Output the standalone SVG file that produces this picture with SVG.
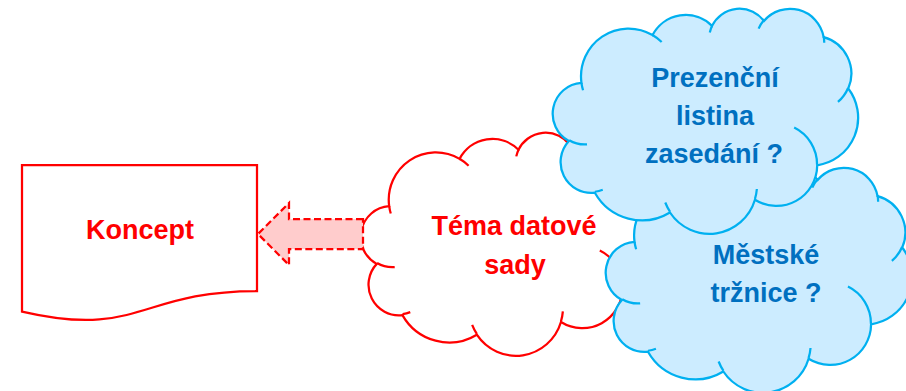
<svg xmlns="http://www.w3.org/2000/svg" xmlns:xlink="http://www.w3.org/1999/xlink" width="906" height="391" viewBox="0 0 906 391">
  <style>
    .lbl { font-family: "Liberation Sans", Arial, sans-serif; font-weight: bold; font-size: 27px; text-anchor: middle; }
    .red { fill: #FF0000; }
    .blue { fill: #0070C0; }
    .cloud-red { fill: #FFFFFF; stroke: #FF0000; stroke-width: 2.25; }
    .cloud-blue { fill: #CCECFF; stroke: #00B0F0; stroke-width: 2.25; }
    .marks { fill: none; }
    .cloud-red .marks, .cloud-blue .marks { fill: none; }
  </style>
  <defs>
    <path id="cloudOutline" vector-effect="non-scaling-stroke" d="M3900 14370 A6753 9190 0 0 1 14005 5202 A5333 7267 0 0 1 22456 3432 A4365 5945 0 0 1 29833 2481 A4857 6595 0 0 1 38318 5576 A5333 7273 0 0 1 41818 15460 A6775 9220 0 0 1 37404 30203 A5785 7867 0 0 1 28556 36813 A6752 9215 0 0 1 16480 39264 A7720 10543 0 0 1 5805 35470 A4360 5918 0 0 1 2114 25548 A4345 5945 0 0 1 3900 14370 Z"/>
    <path id="cloudMarks" vector-effect="non-scaling-stroke" fill="none" d="M4693 26177 A4345 5945 0 0 1 2160 25380 M6928 34899 A4360 5918 0 0 1 5820 35281 M16478 39090 A6752 9215 0 0 1 15810 37350 M28827 34751 A6752 9215 0 0 1 28560 36661 M34129 22954 A5785 7867 0 0 1 37380 30090 M41798 15354 A5333 7273 0 0 1 40350 18030 M38324 5426 A4857 6595 0 0 1 38400 6690 M29078 3952 A4857 6595 0 0 1 29820 2341 M22141 4720 A4365 5945 0 0 1 22500 3330 M14000 5192 A6753 9190 0 0 1 15300 6540 M4127 15789 A6753 9190 0 0 1 3900 14370"/>
  </defs>

  <g id="node-koncept">
    <path d="M22 165 L257 165 L257 291 C139.5 291 139.5 338.9 22 311.6 Z" fill="#FFFFFF" stroke="#FF0000" stroke-width="2.25"/>
    <text class="lbl red" x="140" y="239">Koncept</text>
  </g>

  <g id="node-tema">
    <g class="cloud-red" transform="translate(362 132) scale(0.0069676 0.0051620)">
      <use xlink:href="#cloudOutline"/>
      <use xlink:href="#cloudMarks"/>
    </g>
    <text class="lbl red" x="514" y="235">Téma datové</text>
    <text class="lbl red" x="515" y="274">sady</text>
  </g>

  <g id="connectors">
    <path d="M363 219 L289 219 L289 203 L258 234 L289 265 L289 249 L363 249 Z" fill="#FFCCCC" stroke="#FF0000" stroke-width="2.25" stroke-dasharray="7 3.5"/>
  </g>

  <g id="node-trznice">
    <g class="cloud-blue" transform="translate(607 167) scale(0.0070602 0.0052083)">
      <use xlink:href="#cloudOutline"/>
      <use xlink:href="#cloudMarks"/>
    </g>
    <text class="lbl blue" x="766" y="264">Městské</text>
    <text class="lbl blue" x="766" y="302">tržnice ?</text>
  </g>

  <g id="node-prezencni">
    <g class="cloud-blue" transform="translate(554 8) scale(0.0070370 0.0052083)">
      <use xlink:href="#cloudOutline"/>
      <use xlink:href="#cloudMarks"/>
    </g>
    <text class="lbl blue" x="715" y="87">Prezenční</text>
    <text class="lbl blue" x="715" y="125">listina</text>
    <text class="lbl blue" x="714" y="163">zasedání ?</text>
  </g>
</svg>
